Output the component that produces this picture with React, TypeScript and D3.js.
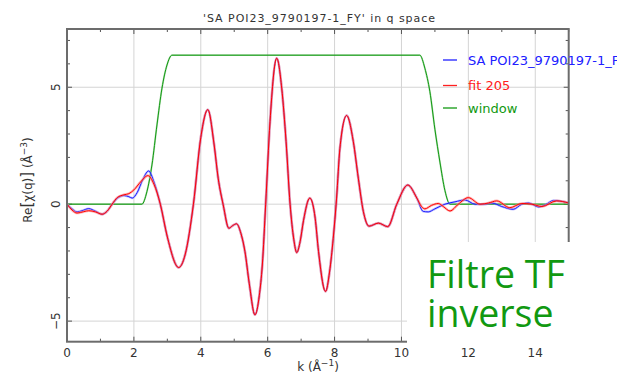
import React from "react";
import * as d3 from "d3";

// ---- data ----
const kBlue = [0, 0.15, 0.3, 0.45, 0.65, 0.85, 1.05, 1.2, 1.35, 1.5, 1.7, 1.85, 1.95, 2.1, 2.25, 2.44, 2.6, 2.79];
const vBlue = [0, -0.2, -0.33, -0.28, -0.19, -0.3, -0.43, -0.3, 0, 0.25, 0.37, 0.32, 0.26, 0.5, 1.0, 1.42, 0.95, 0];
const kFitStart = [0, 0.15, 0.3, 0.5, 0.65, 0.85, 1.05, 1.2, 1.35, 1.5, 1.7, 1.85, 2.0, 2.2, 2.42, 2.6, 2.79];
const vFitStart = [0, -0.25, -0.38, -0.32, -0.28, -0.33, -0.43, -0.3, 0, 0.28, 0.4, 0.45, 0.61, 0.95, 1.22, 0.85, 0];

const kMid = [3.0, 3.34, 3.53, 3.78, 4.0, 4.21, 4.4, 4.52, 4.67, 4.84, 4.95, 5.07, 5.2, 5.32, 5.45, 5.62, 5.75, 5.84, 5.94, 6.07, 6.27, 6.42, 6.55, 6.67, 6.78, 6.87, 6.97, 7.07, 7.26, 7.42, 7.52, 7.73, 7.85, 7.96, 8.06, 8.16, 8.36, 8.56, 8.71, 8.86, 9.03, 9.31, 9.59, 9.86, 10.19, 10.46];
const vMid = [-1.4, -2.71, -2.17, 0, 2.85, 4.04, 2.53, 1.11, -0.03, -1.03, -0.92, -0.84, -1.25, -2.02, -3.4, -4.73, -3.9, -2.6, 0, 3.53, 6.24, 4.96, 2.68, 0, -1.5, -2.07, -1.6, -0.71, 0.26, -0.6, -2.02, -3.73, -2.9, -1.46, 0.26, 2.39, 3.79, 2.68, 1.11, -0.31, -0.94, -0.81, -0.96, 0, 0.82, 0.26];

const kBlueEnd = [10.65, 10.8, 11.0, 11.3, 11.6, 11.9, 12.2, 12.5, 12.7, 13.0, 13.34, 13.6, 13.8, 14.1, 14.3, 14.55, 14.8, 15];
const vBlueEnd = [-0.31, -0.33, -0.2, 0, 0.1, 0.18, 0, 0, 0.05, -0.1, -0.22, 0, 0.05, -0.12, -0.03, 0.16, 0.12, 0.05];
const kFitEnd = [10.6, 10.7, 10.9, 11.1, 11.25, 11.45, 11.7, 12.0, 12.35, 12.6, 12.85, 13.24, 13.6, 13.9, 14.2, 14.64, 15];
const vFitEnd = [-0.1, -0.2, -0.05, 0.03, -0.1, -0.29, 0, 0.28, 0, 0.05, 0.14, -0.15, 0.03, 0, -0.1, 0.14, 0.05];

const kWindow = [0, 2.24, 2.39, 2.54, 2.69, 2.84, 2.99, 3.14, 10.55, 10.7, 10.85, 11.0, 11.15, 11.3, 11.45, 15];
const vWindow = [0, 0, 0.54, 1.68, 3.39, 4.96, 5.95, 6.37, 6.37, 5.81, 4.81, 3.2, 1.8, 0.58, 0, 0];

const xTicks = [0, 2, 4, 6, 8, 10, 12, 14];
const yTicks = [-5, 0, 5];
const legendLabels = ["SA POI23_9790197-1_FY", "fit 205", "window"];
const legendColors = ["#2020ff", "#ff2020", "#119911"];
const titleText = "'SA POI23_9790197-1_FY' in q space";

const W = 617;
const H = 382;
const L = 67, R = 568.7, T = 29, B = 341.7;

export default function App() {
  const x = d3.scaleLinear().domain([0, 15]).range([L, R]);
  const y = d3.scaleLinear().domain([-5.88, 7.49]).range([B, T]);
  const zip = (ks: number[], vs: number[]) => ks.map((k, i) => [k, vs[i]] as [number, number]);
  const blue = [...zip(kBlue, vBlue), ...zip(kMid, vMid), ...zip(kBlueEnd, vBlueEnd)];
  const fit = [...zip(kFitStart, vFitStart), ...zip(kMid, vMid), ...zip(kFitEnd, vFitEnd)];
  const win = zip(kWindow, vWindow);
  const line = d3
    .line<[number, number]>()
    .x((d) => x(d[0]))
    .y((d) => y(d[1]))
    .curve(d3.curveMonotoneX);

  const minorX = d3.range(0, 16, 1);
  const minorY = d3.range(-5, 8, 1);
  const font = "'DejaVu Sans', sans-serif";

  return (
    <svg width={W} height={H} style={{ position: "absolute", left: 0, top: 0, background: "#fff" }}>
      <rect x={0} y={0} width={W} height={H} fill="#fff" />
      <defs>
        <clipPath id="plot">
          <rect x={L} y={T} width={R - L} height={B - T} />
        </clipPath>
      </defs>
      {/* grid */}
      {xTicks.filter((t) => t > 0).map((t) => (
        <line key={"gx" + t} x1={x(t)} x2={x(t)} y1={T} y2={B} stroke="#d4d4d4" strokeWidth={1} />
      ))}
      {yTicks.map((t) => (
        <line key={"gy" + t} x1={L} x2={R} y1={y(t)} y2={y(t)} stroke="#d4d4d4" strokeWidth={1} />
      ))}
      {/* ticks */}
      {minorX.map((t) => {
        const len = t % 2 === 0 ? 5 : 3;
        return (
          <g key={"tx" + t}>
            <line x1={x(t)} x2={x(t)} y1={T} y2={T + len} stroke="#555" strokeWidth={1} />
            <line x1={x(t)} x2={x(t)} y1={B} y2={B - len} stroke="#555" strokeWidth={1} />
          </g>
        );
      })}
      {minorY.map((t) => {
        const len = t % 5 === 0 ? 5 : 3;
        return (
          <g key={"ty" + t}>
            <line x1={L} x2={L + len} y1={y(t)} y2={y(t)} stroke="#555" strokeWidth={1} />
            <line x1={R} x2={R - len} y1={y(t)} y2={y(t)} stroke="#555" strokeWidth={1} />
          </g>
        );
      })}
      {/* curves */}
      <g clipPath="url(#plot)" fill="none">
        <path d={line(win) || ""} stroke="#66bb66" strokeWidth={1.8} opacity={0.5} />
        <path d={line(win) || ""} stroke="#119911" strokeWidth={1} />
        <path d={line(blue) || ""} stroke="#8080ff" strokeWidth={2.4} opacity={0.5} />
        <path d={line(blue) || ""} stroke="#1a1aff" strokeWidth={1} />
        <path d={line(fit) || ""} stroke="#ff8080" strokeWidth={2.6} opacity={0.6} />
        <path d={line(fit) || ""} stroke="#ff0000" strokeWidth={1} />
      </g>
      {/* frame */}
      <rect x={L} y={T} width={R - L} height={B - T} fill="none" stroke="#6c6c6c" strokeWidth={2} />
      {/* x tick labels */}
      {xTicks.map((t) => (
        <text key={"lx" + t} x={x(t)} y={357} textAnchor="middle" fontFamily={font} fontSize={12} fill="#333">
          {t}
        </text>
      ))}
      {/* y tick labels */}
      {yTicks.map((t) => (
        <text
          key={"ly" + t}
          transform={`translate(59.5,${y(t)}) rotate(-90)`}
          textAnchor="middle"
          fontFamily={font}
          fontSize={12}
          fill="#333"
        >
          {t < 0 ? "\u2212" + Math.abs(t) : String(t)}
        </text>
      ))}
      {/* axis titles */}
      <text x={318} y={371} textAnchor="middle" fontFamily={font} fontSize={12} fill="#333">
        k (Å
        <tspan fontSize={9} dy={-5}>−1</tspan>
        <tspan dy={5}>)</tspan>
      </text>
      <text transform={`translate(32,180) rotate(-90)`} textAnchor="middle" fontFamily={font} fontSize={12} fill="#333">
        Re
        <tspan fontSize={15}>[</tspan>χ(q)
        <tspan fontSize={15}>]</tspan> (Å
        <tspan fontSize={9} dy={-5}>−3</tspan>
        <tspan dy={5}>)</tspan>
      </text>
      {/* title */}
      <text x={203} y={21.5} fontFamily={font} fontSize={11} fill="#333" textLength={232} lengthAdjust="spacing">
        {titleText}
      </text>
      {/* legend */}
      {legendLabels.map((lab, i) => {
        const ly = [60, 85.5, 108][i];
        return (
          <g key={"lg" + i}>
            <line x1={443} x2={457} y1={ly} y2={ly} stroke={legendColors[i]} strokeWidth={1.3} />
            <text x={468} y={ly + 4.5} fontFamily={font} fontSize={13} fill={legendColors[i]}>
              {lab}
            </text>
          </g>
        );
      })}
      {/* overlay annotation */}
      <rect x={407} y={242} width={W - 407} height={103} fill="#fff" />
      <text x={427} y={288} fontFamily="'Open Sans', sans-serif" fontSize={37.5} fill="#119911">
        Filtre TF
      </text>
      <text x={427} y={327} fontFamily="'Open Sans', sans-serif" fontSize={37.5} fill="#119911">
        inverse
      </text>
    </svg>
  );
}
